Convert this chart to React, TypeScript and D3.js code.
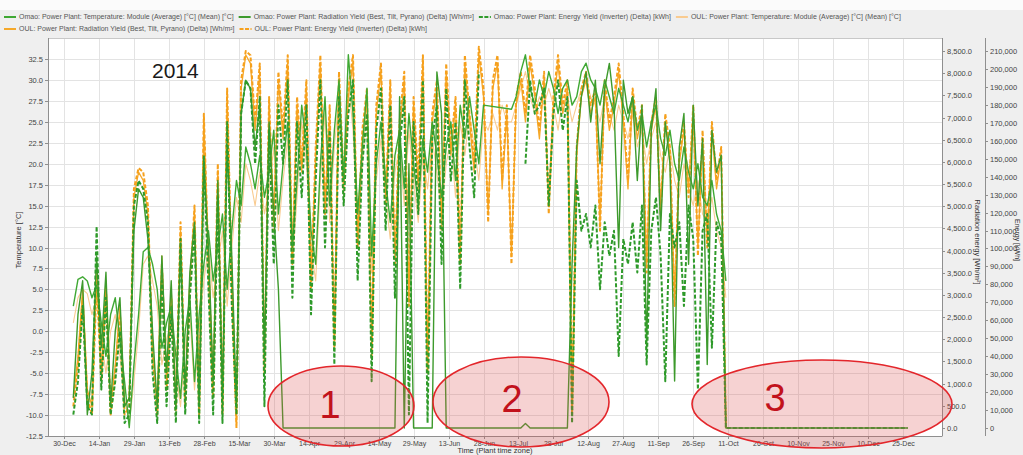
import React, { useEffect, useRef } from "react";
import * as d3 from "d3";

const WIDTH = 1023;
const HEIGHT = 455;

// Samples are taken every second day, starting 3 Jan 2014
const SAMPLE_START = "2014-01-03";
const SAMPLE_STEP_DAYS = 2;

const X_TICK_DATES = [
  "2013-12-30", "2014-01-14", "2014-01-29", "2014-02-13", "2014-02-28",
  "2014-03-15", "2014-03-30", "2014-04-14", "2014-04-29", "2014-05-14",
  "2014-05-29", "2014-06-13", "2014-06-28", "2014-07-13", "2014-07-28",
  "2014-08-12", "2014-08-27", "2014-09-11", "2014-09-26", "2014-10-11",
  "2014-10-26", "2014-11-10", "2014-11-25", "2014-12-10", "2014-12-25",
];
const TEMP_TICKS = [-12.5, -10, -7.5, -5, -2.5, 0, 2.5, 5, 7.5, 10, 12.5, 15, 17.5, 20, 22.5, 25, 27.5, 30, 32.5];
const RAD_TICKS = [0, 500, 1000, 1500, 2000, 2500, 3000, 3500, 4000, 4500, 5000, 5500, 6000, 6500, 7000, 7500, 8000, 8500];
const ENERGY_TICKS = [0, 10000, 20000, 30000, 40000, 50000, 60000, 70000, 80000, 90000, 100000, 110000, 120000, 130000, 140000, 150000, 160000, 170000, 180000, 190000, 200000, 210000];

// Module temperature, daily mean [°C]
const OMAO_TEMP = [
  3, 6.2, 6.5, 6, 4, 5.5, 1, -3, 2, 4,
  -1, -6, -11.5, -4, 2, 9.5, 10, 8, 5, -2,
  1, 3, -3, -8, 0, 4, -6, 2, 8, 12,
  6, 10, 14, 5, 12, 18, 15, 22, 20, 17,
  21, 16, 19, 24, 14, 20, 25, 10, 18, 27,
  22, 12, 8, 20, 28, 15, 24, 30, 18, 33,
  26, 14, 22, 29, 9, 20, 25, 18, 13, 21,
  24, 17, 26, 20, 15, 23, 19, 25, 21, 16,
  22, 25, 18, 27, 23, 28, 24, 20, 27, null,
  null, null, null, null, 26.5, 28, 31, 33, 29, 27,
  30, 28, 31, 29, 26, 29, 30, 27, 28, 31,
  32, 30, 29, 27, 30, 28, 26, 29, 27, 25,
  28, 24, 26, 22, 25, 27, 23, 21, 24, 20,
  18, 22, 19, 17, 20, 16, 15, 18, 14, 12,
  6,
];
const OUL_TEMP = [
  1, 4, 5, 4.5, 2, 4, -1, -5, 0, 2,
  -3, -8, -11, -6, 0, 8, 9, 6, 3, -4,
  -1, 1, -5, -9, -2, 2, -7, 0, 6, 10,
  4, 8, 12, 3, 10, 16, 13, 20, 18, 15,
  19, 14, 17, 22, 12, 18, 23, 8, 16, 25,
  20, 10, 6, 18, 26, 13, 22, 28, 16, 30,
  24, 12, 20, 27, 7, 18, 23, 16, 11, 19,
  22, 15, 24, 18, 13, 21, 17, 23, 19, 14,
  20, 23, 16, 25, 21, 26, 22, 18, 25, 24,
  26, 24, 27, 25, 25, 27, 29, 31, 28, 26,
  28, 27, 29, 27, 24, 28, 28, 25, 27, 29,
  30, 28, 27, 25, 28, 26, 24, 27, 25, 23,
  26, 22, 24, 20, 23, 25, 21, 19, 22, 18,
  16, 20, 17, 15, 18, 14, 13, 16, 12, 10,
  4,
];

// Radiation yield [Wh/m²]
const OMAO_RAD = [
  680, 2560, 3320, 300, 1250, 3880, 1810, 3510, 490, 2190,
  2940, 490, 680, 4450, 5390, 5200, 4260, 2190, 490, 3880,
  1250, 3320, 490, 4070, 870, 3510, 4640, 490, 5960, 4070,
  1060, 5580, 680, 6330, 3880, 490, 7090, 7840, 7650, 6330,
  7280, 1620, 6900, 4830, 3130, 0, 0, 0, 0, 0,
  0, 0, 0, 0, 0, 0, 0, 0, 0, 0,
  0, 0, 0, 0, 0, 0, 0, 0, 0, 0,
  7470, 0, 5960, 0, 0, 0, 0, 0, 8030, 7090,
  0, 0, 0, 0, 0, 0, 0, 0, 0, 0,
  0, 0, 0, 0, 0, 0, 0, 100, 0, 0,
  0, 0, 0, 0, 0, 0, 0, 3690, 6330, 7470,
  8030, 6900, 7840, 5960, 7650, 8220, 7280, 4070, 7840, 7090,
  7470, 5580, 7280, 1810, 6710, 7650, 4450, 6900, 5960, 1060,
  6330, 7090, 3690, 7280, 5010, 6520, 1430, 6710, 5770, 6150,
  0, 0, 0, 0, 0, 0, 0, 0, 0, 0,
  0, 0, 0, 0, 0, 0, 0, 0, 0, 0,
  0, 0, 0, 0, 0, 0, 0, 0, 0, 0,
  0, 0, 0, 0, 0, 0, 0, 0, 0, 0,
];
const OUL_RAD = [
  680, 1620, 3130, 870, 490, 3510, 1250, 3320, 490, 1430,
  2750, 490, 680, 5200, 5770, 5580, 4830, 1810, 490, 3880,
  1060, 3130, 490, 4450, 680, 3320, 4830, 490, 6900, 3880,
  870, 5770, 490, 7470, 3510, 110, 7650, 8410, 8220, 6710,
  8030, 1430, 7280, 4640, 7840, 6520, 8220, 3880, 7280, 5770,
  7650, 3320, 6150, 8220, 5010, 7090, 2000, 7840, 5390, 7470,
  8220, 4260, 6520, 7470, 1810, 7090, 8030, 5200, 7650, 3880,
  6710, 7840, 2940, 7280, 5390, 8220, 1430, 6900, 7650, 4640,
  8030, 6150, 7280, 3880, 8220, 6900, 5770, 8410, 7470, 4830,
  7650, 8220, 5390, 7090, 3880, 7280, 7840, 6900, 8220, 7470,
  6520, 7840, 5010, 7280, 8220, 7090, 7650, 490, 6150, 7470,
  7840, 7090, 7470, 4640, 7650, 6710, 7280, 8030, 6900, 5390,
  7470, 6520, 7090, 3690, 6710, 7280, 5010, 6900, 6150, 2940,
  5960, 6710, 5390, 7090, 4070, 6520, 4260, 6710, 5390, 6150,
  0,
];

// Inverter energy yield [kWh]
const OMAO_ENERGY = [
  7500, 26100, 68000, 12100, 7500, 112300, 21400, 72600, 7500, 26100,
  54000, 2800, 7500, 123900, 137800, 133200, 114600, 30800, 2800, 82000,
  12100, 63300, 2800, 105300, 7500, 72600, 109900, 2800, 151800, 77300,
  7500, 128500, 2800, 170400, 68000, 7500, 175100, 193700, 189100, 147200,
  184400, 12100, 165800, 91300, 179800, 147200, 193700, 72600, 170400, 128500,
  179800, 63300, 137800, 193700, 100600, 165800, 35400, 184400, 123900, 175100,
  193700, 82000, 147200, 175100, 26100, 165800, 189100, 109900, 179800, 72600,
  156500, 184400, 7500, 170400, 119200, 193700, 2800, 161100, 179800, 91300,
  189100, 137800, 170400, 77300, 193700, 156500, 128500, 198400, null, null,
  null, null, null, null, null, null, null, 147200, 193700, 175100,
  179800, 189100, 123900, 175100, 193700, 165800, 184400, 2800, 137800, 109900,
  119200, 100600, 123900, 77300, 114600, 95900, 109900, 40100, 105300, 91300,
  114600, 86600, 123900, 35400, 109900, 128500, 95900, 26100, 119200, 100600,
  114600, 68000, 123900, 105300, 21400, 109900, 119200, 44700, 114600, 105300,
  0, 0, 0, 0, 0, 0, 0, 0, 0, 0,
  0, 0, 0, 0, 0, 0, 0, 0, 0, 0,
  0, 0, 0, 0, 0, 0, 0, 0, 0, 0,
  0, 0, 0, 0, 0, 0, 0, 0, 0, 0,
];
const OUL_ENERGY = [
  12100, 35400, 72600, 16800, 7500, 82000, 26100, 77300, 7500, 30800,
  63300, 7500, 12100, 133200, 144800, 142500, 123900, 40100, 7500, 91300,
  21400, 72600, 7500, 114600, 12100, 77300, 123900, 7500, 175100, 91300,
  16800, 147200, 7500, 189100, 82000, 0, 193700, 210000, 207700, 170400,
  203000, 30800, 184400, 109900, 198400, 165800, 207700, 91300, 184400, 147200,
  193700, 77300, 156500, 207700, 119200, 179800, 44700, 198400, 137800, 189100,
  207700, 100600, 165800, 189100, 40100, 179800, 203000, 123900, 193700, 91300,
  170400, 198400, 68000, 184400, 137800, 207700, 30800, 175100, 193700, 109900,
  203000, 156500, 184400, 91300, 207700, 175100, 147200, 212400, 189100, 114600,
  193700, 207700, 137800, 179800, 91300, 184400, 198400, 175100, 207700, 189100,
  165800, 198400, 119200, 184400, 207700, 179800, 193700, 7500, 156500, 189100,
  198400, 179800, 189100, 109900, 193700, 170400, 184400, 203000, 175100, 137800,
  189100, 165800, 179800, 86600, 170400, 184400, 119200, 175100, 156500, 68000,
  151800, 170400, 128500, 179800, 95900, 165800, 100600, 170400, 137800, 156500,
  0,
];

type Axis = "temp" | "rad" | "energy";
interface Series {
  label: string;
  values: (number | null)[];
  axis: Axis;
  color: string;
  width: number;
  dash: string | null;
  bridgeGaps: boolean;
}

const SERIES: Series[] = [
  { label: "Omao: Power Plant: Temperature: Module (Average) [°C] (Mean) [°C]", values: OMAO_TEMP, axis: "temp", color: "#3fa833", width: 1.4, dash: null, bridgeGaps: true },
  { label: "Omao: Power Plant: Radiation Yield (Best, Tilt, Pyrano) (Delta) [Wh/m²]", values: OMAO_RAD, axis: "rad", color: "#3d9a2c", width: 1.4, dash: null, bridgeGaps: false },
  { label: "Omao: Power Plant: Energy Yield (Inverter) (Delta) [kWh]", values: OMAO_ENERGY, axis: "energy", color: "#2e9a2a", width: 2, dash: "4,2", bridgeGaps: false },
  { label: "OUL: Power Plant: Temperature: Module (Average) [°C] (Mean) [°C]", values: OUL_TEMP, axis: "temp", color: "#f9cb90", width: 1.1, dash: null, bridgeGaps: true },
  { label: "OUL: Power Plant: Radiation Yield (Best, Tilt, Pyrano) (Delta) [Wh/m²]", values: OUL_RAD, axis: "rad", color: "#f5a82a", width: 1.3, dash: null, bridgeGaps: false },
  { label: "OUL: Power Plant: Energy Yield (Inverter) (Delta) [kWh]", values: OUL_ENERGY, axis: "energy", color: "#f6a01c", width: 2, dash: "4,2", bridgeGaps: false },
];

// Legend rows (indices into SERIES) and the order the lines are painted in
const LEGEND_ROWS = [[0, 1, 2, 3], [4, 5]];
const DRAW_ORDER = [3, 4, 5, 0, 1, 2];

const ANNOTATIONS = [
  { label: "1", cx: 341, cy: 406, rx: 73, ry: 40, tx: 330, ty: 404 },
  { label: "2", cx: 521, cy: 402, rx: 88, ry: 45, tx: 512, ty: 398 },
  { label: "3", cx: 822, cy: 404, rx: 130, ry: 44, tx: 775, ty: 397 },
];

const FONT = "'Liberation Sans', Arial, sans-serif";

export default function App() {
  const ref = useRef<SVGSVGElement>(null);

  useEffect(() => {
    const svg = d3.select(ref.current);
    svg.selectAll("*").remove();

    const P = { left: 48, right: 942, top: 38, bottom: 436 };
    const parse = d3.timeParse("%Y-%m-%d");
    const start = parse(SAMPLE_START) as Date;
    const tickDates = X_TICK_DATES.map((s) => parse(s) as Date);
    const fmtDate = d3.timeFormat("%d-%b");

    const x = d3.scaleTime().domain([tickDates[0], tickDates[tickDates.length - 1]]).range([64, 903]);
    const yT = d3.scaleLinear().domain([-12.5, 32.5]).range([436, 59]);
    const yR = d3.scaleLinear().domain([0, 8500]).range([428, 51]);
    const yE = d3.scaleLinear().domain([0, 210000]).range([428, 51]);
    const yFor = (a: Axis) => (a === "temp" ? yT : a === "rad" ? yR : yE);

    // background
    svg.append("rect").attr("width", WIDTH).attr("height", HEIGHT).attr("fill", "#efefef");
    svg.append("rect").attr("width", WIDTH).attr("height", 10).attr("fill", "#fbfbfb");
    svg.append("rect")
      .attr("x", P.left).attr("y", P.top)
      .attr("width", P.right - P.left).attr("height", P.bottom - P.top)
      .attr("fill", "#ffffff");

    // grid
    const grid = svg.append("g").attr("stroke", "#e3e3e3").attr("stroke-width", 1);
    TEMP_TICKS.forEach((t) => {
      grid.append("line").attr("x1", P.left).attr("x2", P.right)
        .attr("y1", Math.round(yT(t)) + 0.5).attr("y2", Math.round(yT(t)) + 0.5);
    });
    tickDates.forEach((d) => {
      grid.append("line").attr("y1", P.top).attr("y2", P.bottom)
        .attr("x1", Math.round(x(d)) + 0.5).attr("x2", Math.round(x(d)) + 0.5);
    });

    // frame
    svg.append("rect")
      .attr("x", P.left + 0.5).attr("y", P.top + 0.5)
      .attr("width", P.right - P.left).attr("height", P.bottom - P.top)
      .attr("fill", "none").attr("stroke", "#c8c8c8");

    // series
    svg.append("clipPath").attr("id", "plot-clip")
      .append("rect").attr("x", P.left).attr("y", P.top - 4)
      .attr("width", P.right - P.left).attr("height", P.bottom - P.top + 4);
    const lines = svg.append("g").attr("clip-path", "url(#plot-clip)");

    DRAW_ORDER.forEach((si) => {
      const s = SERIES[si];
      const y = yFor(s.axis);
      let pts = s.values.map((v, i) => ({ date: d3.timeDay.offset(start, i * SAMPLE_STEP_DAYS), v }));
      if (s.bridgeGaps) pts = pts.filter((p) => p.v != null);
      const line = d3.line<{ date: Date; v: number | null }>()
        .defined((p) => p.v != null)
        .x((p) => x(p.date))
        .y((p) => y(p.v as number));
      lines.append("path")
        .attr("d", line(pts) as string)
        .attr("fill", "none")
        .attr("stroke", s.color)
        .attr("stroke-width", s.width)
        .attr("stroke-linejoin", "round")
        .attr("stroke-dasharray", s.dash ?? null);
    });

    // left axis
    const axisCol = "#8f8f8f";
    const labCol = "#444";
    svg.append("line").attr("x1", P.left + 0.5).attr("x2", P.left + 0.5)
      .attr("y1", P.top).attr("y2", P.bottom).attr("stroke", axisCol);
    TEMP_TICKS.forEach((t) => {
      const yy = Math.round(yT(t)) + 0.5;
      svg.append("line").attr("x1", P.left - 3).attr("x2", P.left).attr("y1", yy).attr("y2", yy).attr("stroke", axisCol);
      svg.append("text").attr("x", P.left - 5).attr("y", yy).attr("dy", "0.33em")
        .attr("text-anchor", "end").attr("font-size", 7.5).attr("font-family", FONT).attr("fill", labCol)
        .text(t.toFixed(1));
    });
    svg.append("text")
      .attr("transform", "translate(21,240) rotate(-90)")
      .attr("text-anchor", "middle").attr("font-size", 7.5).attr("font-family", FONT).attr("fill", "#333")
      .text("Temperature [°C]");

    // bottom axis
    svg.append("line").attr("x1", P.left).attr("x2", P.right)
      .attr("y1", P.bottom + 0.5).attr("y2", P.bottom + 0.5).attr("stroke", axisCol);
    tickDates.forEach((d) => {
      const xx = Math.round(x(d)) + 0.5;
      svg.append("line").attr("x1", xx).attr("x2", xx).attr("y1", P.bottom).attr("y2", P.bottom + 3).attr("stroke", axisCol);
      svg.append("text").attr("x", xx).attr("y", P.bottom + 10)
        .attr("text-anchor", "middle").attr("font-size", 7).attr("font-family", FONT).attr("fill", labCol)
        .text(fmtDate(d));
    });
    svg.append("text").attr("x", (P.left + P.right) / 2).attr("y", 453)
      .attr("text-anchor", "middle").attr("font-size", 7.5).attr("font-family", FONT).attr("fill", "#333")
      .text("Time (Plant time zone)");

    // right axis: radiation
    svg.append("line").attr("x1", P.right + 0.5).attr("x2", P.right + 0.5)
      .attr("y1", P.top).attr("y2", P.bottom).attr("stroke", axisCol);
    const fmtRad = d3.format(",.1f");
    RAD_TICKS.forEach((t) => {
      const yy = Math.round(yR(t)) + 0.5;
      svg.append("line").attr("x1", P.right).attr("x2", P.right + 3).attr("y1", yy).attr("y2", yy).attr("stroke", axisCol);
      svg.append("text").attr("x", P.right + 5).attr("y", yy).attr("dy", "0.33em")
        .attr("font-size", 7.5).attr("font-family", FONT).attr("fill", labCol)
        .text(fmtRad(t));
    });
    svg.append("text")
      .attr("transform", "translate(975,242) rotate(90)")
      .attr("text-anchor", "middle").attr("font-size", 7.5).attr("font-family", FONT).attr("fill", "#333")
      .text("Radiation energy [Wh/m²]");

    // right axis: energy
    const ex = 985;
    svg.append("line").attr("x1", ex + 0.5).attr("x2", ex + 0.5)
      .attr("y1", P.top).attr("y2", P.bottom).attr("stroke", axisCol);
    const fmtE = d3.format(",");
    ENERGY_TICKS.forEach((t) => {
      const yy = Math.round(yE(t)) + 0.5;
      svg.append("line").attr("x1", ex).attr("x2", ex + 3).attr("y1", yy).attr("y2", yy).attr("stroke", axisCol);
      svg.append("text").attr("x", ex + 5).attr("y", yy).attr("dy", "0.33em")
        .attr("font-size", 7.5).attr("font-family", FONT).attr("fill", labCol)
        .text(fmtE(t));
    });
    svg.append("text")
      .attr("transform", "translate(1015,240) rotate(90)")
      .attr("text-anchor", "middle").attr("font-size", 7).attr("font-family", FONT).attr("fill", "#333")
      .text("Energy [kWh]");

    // legend, laid out from measured text widths
    LEGEND_ROWS.forEach((row, r) => {
      let cx = 4;
      const cy = 17 + r * 12;
      row.forEach((si) => {
        const s = SERIES[si];
        svg.append("line").attr("x1", cx).attr("x2", cx + 12).attr("y1", cy).attr("y2", cy)
          .attr("stroke", s.color).attr("stroke-width", 2)
          .attr("stroke-dasharray", s.dash ? "4,1.5" : null);
        const t = svg.append("text").attr("x", cx + 15).attr("y", cy).attr("dy", "0.33em")
          .attr("font-size", 7).attr("font-family", FONT).attr("fill", "#555")
          .text(s.label);
        const w = (t.node() as SVGTextElement).getComputedTextLength();
        cx += 15 + w + 5;
      });
    });

    // annotations
    svg.append("text").attr("x", 152).attr("y", 78)
      .attr("font-size", 21).attr("font-family", FONT).attr("fill", "#1a1a1a")
      .text("2014");
    ANNOTATIONS.forEach((a) => {
      svg.append("ellipse").attr("cx", a.cx).attr("cy", a.cy).attr("rx", a.rx).attr("ry", a.ry)
        .attr("fill", "rgba(222, 80, 80, 0.26)").attr("stroke", "#e3262b").attr("stroke-width", 1.6);
      svg.append("text").attr("x", a.tx).attr("y", a.ty).attr("dy", "0.36em")
        .attr("text-anchor", "middle").attr("font-size", 38).attr("font-family", FONT).attr("fill", "#c2121c")
        .text(a.label);
    });
  }, []);

  return (
    <div style={{ position: "absolute", left: 0, top: 0 }}>
      <svg ref={ref} width={WIDTH} height={HEIGHT} style={{ display: "block" }} />
    </div>
  );
}
